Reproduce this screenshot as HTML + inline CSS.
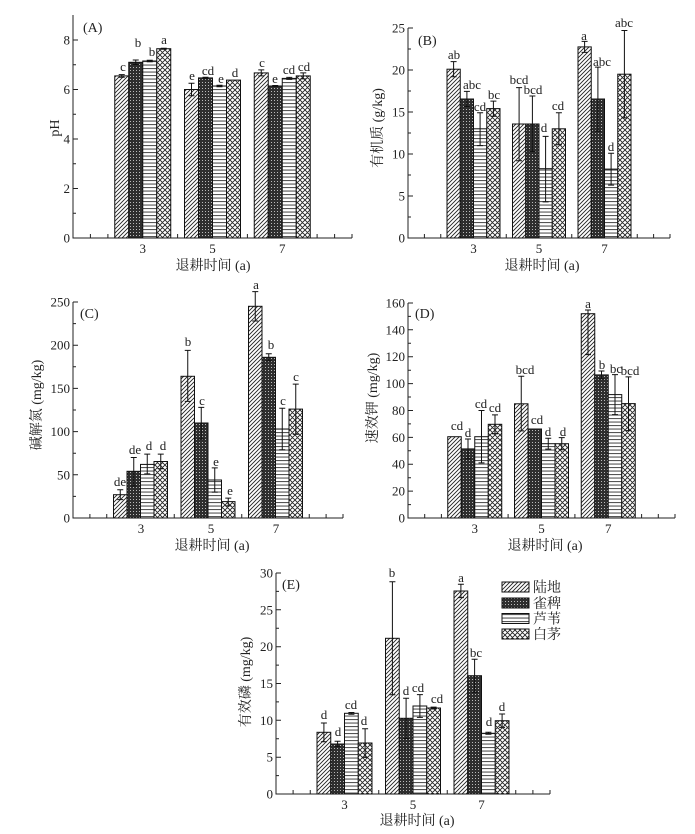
<!DOCTYPE html>
<html><head><meta charset="utf-8"><style>
html,body{margin:0;padding:0;background:#fff;}
svg{display:block;}
text{font-family:"Liberation Serif","Noto Serif CJK SC",serif;fill:#222;}
.t{font-size:13px;}
.l{font-size:13px;}
.ti{font-size:14px;}
</style></head><body>
<svg width="695" height="834" viewBox="0 0 695 834" xmlns="http://www.w3.org/2000/svg">
<defs>
<pattern id="p1" patternUnits="userSpaceOnUse" width="4" height="4">
<rect width="4" height="4" fill="#fff"/>
<path d="M-1,1 l2,-2 M0,4 l4,-4 M3,5 l2,-2" stroke="#222" stroke-width="0.9"/>
</pattern>
<pattern id="p2" patternUnits="userSpaceOnUse" width="3" height="3">
<rect width="3" height="3" fill="#2e2e2e"/>
<rect x="1" y="1" width="1" height="1" fill="#bbb"/>
</pattern>
<pattern id="p3" patternUnits="userSpaceOnUse" width="4" height="3.5">
<rect width="4" height="3.5" fill="#fff"/>
<rect x="0" y="1.5" width="4" height="1.1" fill="#555"/>
</pattern>
<pattern id="p4" patternUnits="userSpaceOnUse" width="5" height="5">
<rect width="5" height="5" fill="#fff"/>
<path d="M0,0 L5,5 M5,0 L0,5 M-1,4 l2,2 M4,-1 l2,2 M-1,1 l2,-2 M4,6 l2,-2" stroke="#222" stroke-width="0.9"/>
</pattern>
</defs>

<!-- ================= Panel A ================= -->
<g stroke="#222" stroke-width="1" fill="none">
<path d="M73,15V238H352"/>
<path d="M73,238h5M73,188.5h5M73,139h5M73,89.5h5M73,40h5M73,213.25h3M73,163.75h3M73,114.25h3M73,64.75h3"/>
<path d="M90.4,238v-4M107.9,238v-4M125.3,238v-4M142.75,238v-4M160.2,238v-4M177.6,238v-4M195.1,238v-4M212.5,238v-4M229.9,238v-4M247.4,238v-4M264.8,238v-4M282.25,238v-4M299.7,238v-4M317.1,238v-4M334.6,238v-4M352,238v-4"/>
</g>
<g class="t" text-anchor="end">
<text x="70" y="242.5">0</text><text x="70" y="193">2</text><text x="70" y="143.5">4</text><text x="70" y="94">6</text><text x="70" y="44.5">8</text>
</g>
<g class="t" text-anchor="middle">
<text x="142.75" y="253">3</text><text x="212.5" y="253">5</text><text x="282.25" y="253">7</text>
</g>
<text class="ti" x="213" y="270" text-anchor="middle">退耕时间 (a)</text>
<text class="ti" transform="translate(59,128) rotate(-90)" text-anchor="middle">pH</text>
<text class="ti" x="83" y="32">(A)</text>
<g stroke="#111" stroke-width="1">
<rect x="114.75" y="75.9" width="14" height="162.1" fill="url(#p1)"/>
<rect x="128.75" y="62.3" width="14" height="175.7" fill="url(#p2)"/>
<rect x="142.75" y="61" width="14" height="177" fill="url(#p3)"/>
<rect x="156.75" y="48.7" width="14" height="189.3" fill="url(#p4)"/>
<rect x="184.5" y="89.5" width="14" height="148.5" fill="url(#p1)"/>
<rect x="198.5" y="77.9" width="14" height="160.1" fill="url(#p2)"/>
<rect x="212.5" y="86" width="14" height="152" fill="url(#p3)"/>
<rect x="226.5" y="80.1" width="14" height="157.9" fill="url(#p4)"/>
<rect x="254.25" y="72.9" width="14" height="165.1" fill="url(#p1)"/>
<rect x="268.25" y="86" width="14" height="152" fill="url(#p2)"/>
<rect x="282.25" y="78.4" width="14" height="159.6" fill="url(#p3)"/>
<rect x="296.25" y="75.9" width="14" height="162.1" fill="url(#p4)"/>
</g>
<g stroke="#111" stroke-width="1" fill="none">
<path d="M121.75,74.6V77.2M118.75,74.6h6M118.75,77.2h6"/>
<path d="M135.75,60V64.5M132.75,60h6M132.75,64.5h6"/>
<path d="M149.75,60.3V61.7M146.75,60.3h6M146.75,61.7h6"/>
<path d="M163.75,48.2V49.2M160.75,48.2h6M160.75,49.2h6"/>
<path d="M191.5,83.3V95.7M188.5,83.3h6M188.5,95.7h6"/>
<path d="M205.5,77.2V78.6M202.5,77.2h6M202.5,78.6h6"/>
<path d="M219.5,85.3V86.7M216.5,85.3h6M216.5,86.7h6"/>
<path d="M261.25,69.9V75.9M258.25,69.9h6M258.25,75.9h6"/>
<path d="M275.25,85.5V86.5M272.25,85.5h6M272.25,86.5h6"/>
<path d="M289.25,77.4V79.4M286.25,77.4h6M286.25,79.4h6"/>
<path d="M303.25,72.9V78.9M300.25,72.9h6M300.25,78.9h6"/>
</g>
<g class="l" text-anchor="middle">
<text x="123" y="71">c</text><text x="138" y="47">b</text><text x="152" y="56">b</text><text x="164" y="44">a</text>
<text x="192" y="80">e</text><text x="208" y="75">cd</text><text x="221" y="83">e</text><text x="235" y="77">d</text>
<text x="262" y="67">c</text><text x="275" y="83">e</text><text x="289" y="74">cd</text><text x="304" y="71">cd</text>
</g>

<!-- ================= Panel B ================= -->
<g stroke="#222" stroke-width="1" fill="none">
<path d="M408,28V238H670"/>
<path d="M408,238h5M408,196h5M408,154h5M408,112h5M408,70h5M408,28h5M408,217h3M408,175h3M408,133h3M408,91h3M408,49h3"/>
<path d="M424.4,238v-4M440.75,238v-4M457.1,238v-4M473.5,238v-4M489.9,238v-4M506.25,238v-4M522.6,238v-4M539,238v-4M555.4,238v-4M571.75,238v-4M588.1,238v-4M604.5,238v-4M620.9,238v-4M637.25,238v-4M653.6,238v-4M670,238v-4"/>
</g>
<g class="t" text-anchor="end">
<text x="405" y="242.5">0</text><text x="405" y="200.5">5</text><text x="405" y="158.5">10</text><text x="405" y="116.5">15</text><text x="405" y="74.5">20</text><text x="405" y="32.5">25</text>
</g>
<g class="t" text-anchor="middle">
<text x="473.5" y="253">3</text><text x="539" y="253">5</text><text x="604.5" y="253">7</text>
</g>
<text class="ti" x="542" y="270" text-anchor="middle">退耕时间 (a)</text>
<text class="ti" transform="translate(382,128) rotate(-90)" text-anchor="middle">有机质 (g/kg)</text>
<text class="ti" x="418" y="45">(B)</text>
<g stroke="#111" stroke-width="1">
<rect x="447" y="69.2" width="13.25" height="168.8" fill="url(#p1)"/>
<rect x="460.25" y="99" width="13.25" height="139" fill="url(#p2)"/>
<rect x="473.5" y="128.8" width="13.25" height="109.2" fill="url(#p3)"/>
<rect x="486.75" y="108.6" width="13.25" height="129.4" fill="url(#p4)"/>
<rect x="512.5" y="124" width="13.25" height="114" fill="url(#p1)"/>
<rect x="525.75" y="124" width="13.25" height="114" fill="url(#p2)"/>
<rect x="539" y="168.7" width="13.25" height="69.3" fill="url(#p3)"/>
<rect x="552.25" y="128.8" width="13.25" height="109.2" fill="url(#p4)"/>
<rect x="578" y="46.9" width="13.25" height="191.1" fill="url(#p1)"/>
<rect x="591.25" y="99" width="13.25" height="139" fill="url(#p2)"/>
<rect x="604.5" y="169.1" width="13.25" height="68.9" fill="url(#p3)"/>
<rect x="617.75" y="74.2" width="13.25" height="163.8" fill="url(#p4)"/>
</g>
<g stroke="#111" stroke-width="1" fill="none">
<path d="M453.6,61.6V76.7M450.6,61.6h6M450.6,76.7h6"/>
<path d="M466.9,91.4V106.5M463.9,91.4h6M463.9,106.5h6"/>
<path d="M480.1,112.8V145.6M477.1,112.8h6M477.1,145.6h6"/>
<path d="M493.4,101.1V116.2M490.4,101.1h6M490.4,116.2h6"/>
<path d="M519.1,87.6V160.7M516.1,87.6h6M516.1,160.7h6"/>
<path d="M532.4,96V151.5M529.4,96h6M529.4,151.5h6"/>
<path d="M545.6,136.4V201.9M542.6,136.4h6M542.6,201.9h6"/>
<path d="M558.9,112.8V144.8M555.9,112.8h6M555.9,144.8h6"/>
<path d="M584.6,41.4V52.4M581.6,41.4h6M581.6,52.4h6"/>
<path d="M597.9,67.1V131.3M594.9,67.1h6M594.9,131.3h6"/>
<path d="M611.1,153.2V185.1M608.1,153.2h6M608.1,185.1h6"/>
<path d="M624.4,30.5V117.9M621.4,30.5h6M621.4,117.9h6"/>
</g>
<g class="l" text-anchor="middle">
<text x="454" y="59">ab</text><text x="472" y="89">abc</text><text x="480" y="111">cd</text><text x="494" y="99">bc</text>
<text x="519" y="84">bcd</text><text x="533" y="94">bcd</text><text x="544" y="132">d</text><text x="558" y="110">cd</text>
<text x="584" y="40">a</text><text x="602" y="66">abc</text><text x="611" y="151">d</text><text x="624" y="27">abc</text>
</g>

<!-- ================= Panel C ================= -->
<g stroke="#222" stroke-width="1" fill="none">
<path d="M73,302V518H343"/>
<path d="M73,518h5M73,474.8h5M73,431.6h5M73,388.4h5M73,345.2h5M73,302h5M73,496.4h3M73,453.2h3M73,410h3M73,366.8h3M73,323.6h3"/>
<path d="M89.9,518v-4M106.75,518v-4M123.6,518v-4M140.5,518v-4M157.4,518v-4M174.25,518v-4M191.1,518v-4M208,518v-4M224.9,518v-4M241.75,518v-4M258.6,518v-4M275.5,518v-4M292.4,518v-4M309.25,518v-4M326.1,518v-4M343,518v-4"/>
</g>
<g class="t" text-anchor="end">
<text x="70" y="522.5">0</text><text x="70" y="479.3">50</text><text x="70" y="436.1">100</text><text x="70" y="392.9">150</text><text x="70" y="349.7">200</text><text x="70" y="306.5">250</text>
</g>
<g class="t" text-anchor="middle">
<text x="141" y="533">3</text><text x="211" y="533">5</text><text x="276" y="533">7</text>
</g>
<text class="ti" x="212" y="550" text-anchor="middle">退耕时间 (a)</text>
<text class="ti" transform="translate(41,405) rotate(-90)" text-anchor="middle">碱解氮 (mg/kg)</text>
<text class="ti" x="80" y="318">(C)</text>
<g stroke="#111" stroke-width="1">
<rect x="113.5" y="494.7" width="13.5" height="23.3" fill="url(#p1)"/>
<rect x="127" y="471.3" width="13.5" height="46.7" fill="url(#p2)"/>
<rect x="140.5" y="464.4" width="13.5" height="53.6" fill="url(#p3)"/>
<rect x="154" y="461.5" width="13.5" height="56.5" fill="url(#p4)"/>
<rect x="181" y="376.3" width="13.5" height="141.7" fill="url(#p1)"/>
<rect x="194.5" y="423" width="13.5" height="95" fill="url(#p2)"/>
<rect x="208" y="480" width="13.5" height="38" fill="url(#p3)"/>
<rect x="221.5" y="501.6" width="13.5" height="16.4" fill="url(#p4)"/>
<rect x="248.5" y="306.3" width="13.5" height="211.7" fill="url(#p1)"/>
<rect x="262" y="357.3" width="13.5" height="160.7" fill="url(#p2)"/>
<rect x="275.5" y="429" width="13.5" height="89" fill="url(#p3)"/>
<rect x="289" y="409.1" width="13.5" height="108.9" fill="url(#p4)"/>
</g>
<g stroke="#111" stroke-width="1" fill="none">
<path d="M120.25,489.7V499.6M117.25,489.7h6M117.25,499.6h6"/>
<path d="M133.75,457.5V486M130.75,457.5h6M130.75,486h6"/>
<path d="M147.25,454.1V473.9M144.25,454.1h6M144.25,473.9h6"/>
<path d="M160.75,454.1V468.8M157.75,454.1h6M157.75,468.8h6"/>
<path d="M187.75,350.4V401.4M184.75,350.4h6M184.75,401.4h6"/>
<path d="M201.25,407.4V439M198.25,407.4h6M198.25,439h6"/>
<path d="M214.75,467.9V492.1M211.75,467.9h6M211.75,492.1h6"/>
<path d="M228.25,498.1V505.9M225.25,498.1h6M225.25,505.9h6"/>
<path d="M255.25,291.6V321M252.25,291.6h6M252.25,321h6"/>
<path d="M268.75,353.8V360.8M265.75,353.8h6M265.75,360.8h6"/>
<path d="M282.25,408.3V449.7M279.25,408.3h6M279.25,449.7h6"/>
<path d="M295.75,384.1V434.2M292.75,384.1h6M292.75,434.2h6"/>
</g>
<g class="l" text-anchor="middle">
<text x="120" y="486">de</text><text x="135" y="454">de</text><text x="149" y="450">d</text><text x="163" y="450">d</text>
<text x="188" y="346">b</text><text x="202" y="405">c</text><text x="216" y="466">e</text><text x="230" y="495">e</text>
<text x="256" y="289">a</text><text x="271" y="349">b</text><text x="283" y="405">c</text><text x="296" y="381">c</text>
</g>

<!-- ================= Panel D ================= -->
<g stroke="#222" stroke-width="1" fill="none">
<path d="M408,303V518H675"/>
<path d="M408,518h5M408,491.1h5M408,464.2h5M408,437.4h5M408,410.5h5M408,383.6h5M408,356.7h5M408,329.8h5M408,303h5M408,504.6h3M408,477.7h3M408,450.8h3M408,423.9h3M408,397h3M408,370.2h3M408,343.3h3M408,316.4h3"/>
<path d="M424.7,518v-4M441.4,518v-4M458.1,518v-4M474.75,518v-4M491.4,518v-4M508.1,518v-4M524.8,518v-4M541.5,518v-4M558.2,518v-4M574.9,518v-4M591.6,518v-4M608.25,518v-4M624.9,518v-4M641.6,518v-4M658.3,518v-4M675,518v-4"/>
</g>
<g class="t" text-anchor="end">
<text x="405" y="522.5">0</text><text x="405" y="495.6">20</text><text x="405" y="468.7">40</text><text x="405" y="441.9">60</text><text x="405" y="415">80</text><text x="405" y="388.1">100</text><text x="405" y="361.2">120</text><text x="405" y="334.3">140</text><text x="405" y="307.5">160</text>
</g>
<g class="t" text-anchor="middle">
<text x="474.75" y="533">3</text><text x="541.5" y="533">5</text><text x="608.25" y="533">7</text>
</g>
<text class="ti" x="545" y="550" text-anchor="middle">退耕时间 (a)</text>
<text class="ti" transform="translate(377,398) rotate(-90)" text-anchor="middle">速效钾 (mg/kg)</text>
<text class="ti" x="415" y="318">(D)</text>
<g stroke="#111" stroke-width="1">
<rect x="447.75" y="436.7" width="13.5" height="81.3" fill="url(#p1)"/>
<rect x="461.25" y="448.9" width="13.5" height="69.1" fill="url(#p2)"/>
<rect x="474.75" y="436.7" width="13.5" height="81.3" fill="url(#p3)"/>
<rect x="488.25" y="424.3" width="13.5" height="93.7" fill="url(#p4)"/>
<rect x="514.5" y="403.8" width="13.5" height="114.2" fill="url(#p1)"/>
<rect x="528" y="429" width="13.5" height="89" fill="url(#p2)"/>
<rect x="541.5" y="443.7" width="13.5" height="74.3" fill="url(#p3)"/>
<rect x="555" y="443.7" width="13.5" height="74.3" fill="url(#p4)"/>
<rect x="581.25" y="313.7" width="13.5" height="204.3" fill="url(#p1)"/>
<rect x="594.75" y="374.9" width="13.5" height="143.1" fill="url(#p2)"/>
<rect x="608.25" y="394.6" width="13.5" height="123.4" fill="url(#p3)"/>
<rect x="621.75" y="403.6" width="13.5" height="114.4" fill="url(#p4)"/>
</g>
<g stroke="#111" stroke-width="1" fill="none">
<path d="M468,439V458.9M465,439h6M465,458.9h6"/>
<path d="M481.5,410.5V462.9M478.5,410.5h6M478.5,462.9h6"/>
<path d="M495,414.9V433.7M492,414.9h6M492,433.7h6"/>
<path d="M521.25,376.2V430.9M518.25,376.2h6M518.25,430.9h6"/>
<path d="M548.25,438.3V449.1M545.25,438.3h6M545.25,449.1h6"/>
<path d="M561.75,437.6V449.7M558.75,437.6h6M558.75,449.7h6"/>
<path d="M588,310V354.6M585,310h6M585,354.6h6"/>
<path d="M601.5,371V378.8M598.5,371h6M598.5,378.8h6"/>
<path d="M615,374.6V414.6M612,374.6h6M612,414.6h6"/>
<path d="M628.5,376.9V430.6M625.5,376.9h6M625.5,430.6h6"/>
</g>
<g class="l" text-anchor="middle">
<text x="457" y="430">cd</text><text x="468" y="437">d</text><text x="481" y="408">cd</text><text x="495" y="412">cd</text>
<text x="525" y="374">bcd</text><text x="537" y="424">cd</text><text x="548" y="436">d</text><text x="563" y="436">d</text>
<text x="588" y="308">a</text><text x="602" y="369">b</text><text x="616" y="373">bc</text><text x="630" y="375">bcd</text>
</g>

<!-- ================= Panel E ================= -->
<g stroke="#222" stroke-width="1" fill="none">
<path d="M276,573V794H550"/>
<path d="M276,794h5M276,757.2h5M276,720.3h5M276,683.5h5M276,646.7h5M276,609.8h5M276,573h5M276,775.6h3M276,738.7h3M276,701.9h3M276,665.1h3M276,628.2h3M276,591.4h3"/>
<path d="M293.1,794v-4M310.25,794v-4M327.4,794v-4M344.5,794v-4M361.6,794v-4M378.75,794v-4M395.9,794v-4M413,794v-4M430.1,794v-4M447.25,794v-4M464.4,794v-4M481.5,794v-4M498.6,794v-4M515.75,794v-4M532.9,794v-4M550,794v-4"/>
</g>
<g class="t" text-anchor="end">
<text x="273" y="798.5">0</text><text x="273" y="761.7">5</text><text x="273" y="724.8">10</text><text x="273" y="688">15</text><text x="273" y="651.2">20</text><text x="273" y="614.3">25</text><text x="273" y="577.5">30</text>
</g>
<g class="t" text-anchor="middle">
<text x="344.5" y="809">3</text><text x="413" y="809">5</text><text x="481.5" y="809">7</text>
</g>
<text class="ti" x="417" y="825" text-anchor="middle">退耕时间 (a)</text>
<text class="ti" transform="translate(250,682) rotate(-90)" text-anchor="middle">有效磷 (mg/kg)</text>
<text class="ti" x="282" y="589">(E)</text>
<g stroke="#111" stroke-width="1">
<rect x="317" y="732.3" width="13.75" height="61.7" fill="url(#p1)"/>
<rect x="330.75" y="744" width="13.75" height="50" fill="url(#p2)"/>
<rect x="344.5" y="713.3" width="13.75" height="80.7" fill="url(#p3)"/>
<rect x="358.25" y="743" width="13.75" height="51" fill="url(#p4)"/>
<rect x="385.5" y="638.3" width="13.75" height="155.7" fill="url(#p1)"/>
<rect x="399.25" y="718.3" width="13.75" height="75.7" fill="url(#p2)"/>
<rect x="413" y="706" width="13.75" height="88" fill="url(#p3)"/>
<rect x="426.75" y="708" width="13.75" height="86" fill="url(#p4)"/>
<rect x="454" y="591" width="13.75" height="203" fill="url(#p1)"/>
<rect x="467.75" y="675.7" width="13.75" height="118.3" fill="url(#p2)"/>
<rect x="481.5" y="733.3" width="13.75" height="60.7" fill="url(#p3)"/>
<rect x="495.25" y="720.7" width="13.75" height="73.3" fill="url(#p4)"/>
</g>
<g stroke="#111" stroke-width="1" fill="none">
<path d="M323.9,723V741.7M320.9,723h6M320.9,741.7h6"/>
<path d="M337.6,741.3V746.6M334.6,741.3h6M334.6,746.6h6"/>
<path d="M351.4,712.5V714.2M348.4,712.5h6M348.4,714.2h6"/>
<path d="M365.1,728.7V757.4M362.1,728.7h6M362.1,757.4h6"/>
<path d="M392.4,581.8V694.8M389.4,581.8h6M389.4,694.8h6"/>
<path d="M406.1,698.2V738.5M403.1,698.2h6M403.1,738.5h6"/>
<path d="M419.9,694.6V717.4M416.9,694.6h6M416.9,717.4h6"/>
<path d="M433.6,707.1V709M430.6,707.1h6M430.6,709h6"/>
<path d="M460.9,584.3V597.6M457.9,584.3h6M457.9,597.6h6"/>
<path d="M474.6,659.2V692.3M471.6,659.2h6M471.6,692.3h6"/>
<path d="M488.4,732.3V734.3M485.4,732.3h6M485.4,734.3h6"/>
<path d="M502.1,714V727.4M499.1,714h6M499.1,727.4h6"/>
</g>
<g class="l" text-anchor="middle">
<text x="324" y="719">d</text><text x="338" y="736">d</text><text x="351" y="709">cd</text><text x="364" y="725">d</text>
<text x="392" y="577">b</text><text x="406" y="695">d</text><text x="418" y="692">cd</text><text x="437" y="703">cd</text>
<text x="461" y="582">a</text><text x="476" y="657">bc</text><text x="489" y="726">d</text><text x="502" y="711">d</text>
</g>

<!-- Legend -->
<g stroke="#111" stroke-width="1">
<rect x="502" y="582" width="27" height="10" fill="url(#p1)"/>
<rect x="502" y="598" width="27" height="10" fill="url(#p2)"/>
<rect x="502" y="613.5" width="27" height="10" fill="url(#p3)"/>
<rect x="502" y="629" width="27" height="10" fill="url(#p4)"/>
</g>
<g class="ti">
<text x="533" y="592">陆地</text>
<text x="533" y="608">雀稗</text>
<text x="533" y="623.5">芦苇</text>
<text x="533" y="639">白茅</text>
</g>
</svg>
</body></html>
